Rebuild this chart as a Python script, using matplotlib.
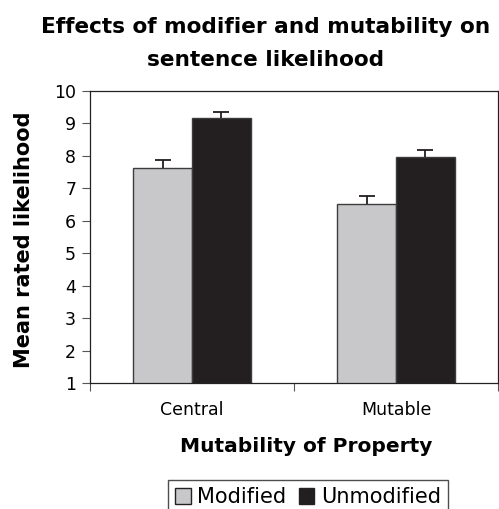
import numpy as np
import matplotlib.pyplot as plt

categories = ["Central", "Mutable"]
modified = [7.63, 6.51]
unmodified = [9.16, 7.95]
modified_err = [0.22, 0.25]
unmodified_err = [0.17, 0.21]

gray = "#c8c8ca"
black = "#231f20"
edge = "#3c3c3c"

fig = plt.figure(figsize=(4.99, 5.09), dpi=100)
ax = fig.add_axes([0.1804, 0.2475, 0.8176, 0.5747])

x = np.arange(len(categories))
w = 0.2875
ax.bar(x - w / 2, modified, w, color=gray, edgecolor=edge, linewidth=1.0,
       label="Modified", zorder=2)
ax.bar(x + w / 2, unmodified, w, color=black, edgecolor=edge, linewidth=1.0,
       label="Unmodified", zorder=2)

# upward-only error bars, drop the lower cap
for xs, vals, errs in [(x - w / 2, modified, modified_err), (x + w / 2, unmodified, unmodified_err)]:
    _, caps, _ = ax.errorbar(xs, vals, yerr=[np.zeros(2), errs], fmt='none', ecolor=black,
                             elinewidth=1.3, capthick=1.3, capsize=5.5, zorder=3)
    caps[0].set_visible(False)

ax.set_xlim(-0.5, 1.5)
ax.set_ylim(1, 10)
ax.set_yticks(range(1, 11))
ax.tick_params(axis='y', labelsize=12.5, length=6, width=0.8, direction='out', pad=4, color='#555555')

# category labels on major ticks (no mark), boundary ticks as minor
ax.set_xticks(x)
ax.set_xticklabels(categories)
ax.tick_params(axis='x', which='major', length=0, labelsize=12.5, pad=13)
ax.set_xticks([-0.5, 0.5, 1.5], minor=True)
ax.tick_params(axis='x', which='minor', length=6, width=0.8, direction='out', color='#555555')

for s in ax.spines.values():
    s.set_linewidth(0.9)
    s.set_color('#222222')

fig.text(24 / 499, 1 - 240 / 509, "Mean rated likelihood", fontsize=15, fontweight='bold',
         rotation=90, ha='center', va='center')

fig.text(306 / 499, 1 - 446 / 509, "Mutability of Property", fontsize=14.5,
         fontweight='bold', ha='center', va='center')
fig.text(266 / 499, 1 - 33 / 509, "Effects of modifier and mutability on",
         fontsize=15.6, fontweight='bold', ha='center', va='baseline')
fig.text(266 / 499, 1 - 66 / 509, "sentence likelihood",
         fontsize=15.6, fontweight='bold', ha='center', va='baseline')

leg = ax.legend(loc='upper center', bbox_to_anchor=(308 / 499, 1 - 480 / 509),
                bbox_transform=fig.transFigure, ncol=2, fontsize=15, frameon=True,
                fancybox=False, edgecolor='#222222', handlelength=0.75, handleheight=0.75,
                handletextpad=0.3, columnspacing=0.6, borderpad=0.35, borderaxespad=0)
leg.get_frame().set_linewidth(1.0)
for h in leg.legend_handles:
    h.set_edgecolor('#222222')

fig.savefig("out.png", dpi=100)
